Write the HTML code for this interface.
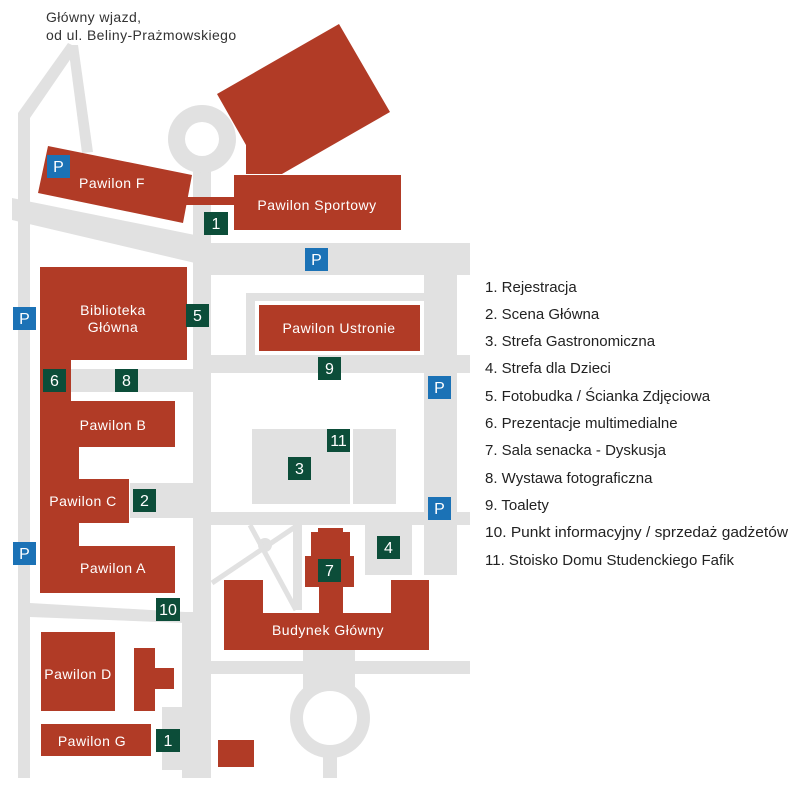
<!DOCTYPE html>
<html><head><meta charset="utf-8"><style>
html,body{margin:0;padding:0;background:#fff;width:800px;height:795px;overflow:hidden}
svg{display:block}
text{font-family:"Liberation Sans",sans-serif}
</style></head><body>
<svg width="800" height="795" viewBox="0 0 800 795" xmlns="http://www.w3.org/2000/svg">
<g fill="#e1e1e1">
<!-- left road with top diagonal -->
<polygon points="18,113 68,43 78,48 30,118 30,778 18,778"/>
<polygon points="68,45 78,45 93,152 82,153"/>
<!-- diagonal road -->
<polygon points="12,198 195,235 195,263 12,220"/>
<rect x="195" y="243" width="275" height="32"/>
<!-- main vertical road -->
<rect x="193" y="170" width="18" height="608"/>
<circle cx="202" cy="139" r="34"/>
<!-- Ustronie frame -->
<rect x="246" y="293" width="179" height="8"/>
<rect x="246" y="293" width="9" height="64"/>
<rect x="424" y="275" width="33" height="300"/>
<rect x="210" y="355" width="260" height="18"/>
<rect x="70" y="369" width="125" height="23"/>
<rect x="130" y="483" width="65" height="35"/>
<rect x="210" y="512" width="260" height="13"/>
<rect x="252" y="429" width="98" height="75"/>
<rect x="353" y="429" width="43" height="75"/>
<rect x="365" y="525" width="47" height="50"/>
<rect x="293" y="525" width="9" height="85"/>
<circle cx="265" cy="545" r="7"/>
<polygon points="30,603 185,612 185,623 30,617"/>
<rect x="182" y="612" width="28" height="166"/>
<rect x="162" y="707" width="22" height="63"/>
<rect x="210" y="661" width="260" height="13"/>
<rect x="303" y="650" width="52" height="50"/>
<circle cx="330" cy="718" r="40"/>
<rect x="323" y="740" width="14" height="38"/>
</g>
<g stroke="#e1e1e1" stroke-width="5">
<line x1="250" y1="525" x2="296" y2="610"/>
<line x1="212" y1="583" x2="295" y2="527"/>
</g>
<circle cx="202" cy="139" r="17" fill="#fff"/>
<circle cx="330" cy="718" r="27" fill="#fff"/>
<g fill="#b13b26">
<polygon points="217,94 339,24 390,112 282,174 246,174 246,145"/>
<rect x="234" y="175" width="167" height="55"/>
<rect x="185" y="197" width="50" height="8"/>
<polygon points="48,146 192,175 183,223 38,193"/>
<rect x="40" y="267" width="147" height="93"/>
<rect x="40" y="355" width="31" height="50"/>
<rect x="40" y="401" width="135" height="46"/>
<rect x="40" y="440" width="39" height="153"/>
<rect x="40" y="479" width="89" height="44"/>
<rect x="40" y="546" width="135" height="47"/>
<rect x="41" y="632" width="74" height="79"/>
<rect x="134" y="648" width="21" height="63"/>
<rect x="154" y="668" width="20" height="21"/>
<rect x="41" y="724" width="110" height="32"/>
<rect x="218" y="740" width="36" height="27"/>
<rect x="224" y="613" width="205" height="37"/>
<rect x="224" y="580" width="39" height="40"/>
<rect x="391" y="580" width="38" height="40"/>
<rect x="319" y="580" width="24" height="40"/>
<rect x="305" y="556" width="49" height="31"/>
<rect x="311" y="532" width="39" height="28"/>
<rect x="318" y="528" width="25" height="8"/>
<rect x="259" y="305" width="161" height="46"/>
</g>
<g fill="#fff" font-size="14" text-anchor="middle" letter-spacing="0.5">
<text x="112" y="188">Pawilon F</text>
<text x="317" y="210">Pawilon Sportowy</text>
<text x="113" y="315">Biblioteka</text>
<text x="113" y="332">Główna</text>
<text x="339" y="333">Pawilon Ustronie</text>
<text x="113" y="430">Pawilon B</text>
<text x="83" y="506">Pawilon C</text>
<text x="113" y="573">Pawilon A</text>
<text x="78" y="679">Pawilon D</text>
<text x="92" y="746">Pawilon G</text>
<text x="328" y="635">Budynek Główny</text>
</g>
<g fill="#1b72b6">
<rect x="47" y="155" width="23" height="23"/>
<rect x="305" y="248" width="23" height="23"/>
<rect x="13" y="307" width="23" height="23"/>
<rect x="428" y="376" width="23" height="23"/>
<rect x="428" y="497" width="23" height="23"/>
<rect x="13" y="542" width="23" height="23"/>
</g>
<g fill="#0c4d39">
<rect x="204" y="212" width="24" height="23"/>
<rect x="186" y="304" width="23" height="23"/>
<rect x="43" y="369" width="23" height="23"/>
<rect x="115" y="369" width="23" height="23"/>
<rect x="318" y="357" width="23" height="23"/>
<rect x="327" y="429" width="23" height="23"/>
<rect x="288" y="457" width="23" height="23"/>
<rect x="133" y="489" width="23" height="23"/>
<rect x="377" y="536" width="23" height="23"/>
<rect x="318" y="559" width="23" height="23"/>
<rect x="156" y="598" width="24" height="23"/>
<rect x="156" y="729" width="24" height="23"/>
</g>
<g fill="#fff" font-size="16" text-anchor="middle">
<text x="58.5" y="172">P</text><text x="316.5" y="265">P</text><text x="24.5" y="324">P</text>
<text x="439.5" y="393">P</text><text x="439.5" y="514">P</text><text x="24.5" y="559">P</text>
<text x="216" y="229">1</text><text x="197.5" y="321">5</text><text x="54.5" y="386">6</text>
<text x="126.5" y="386">8</text><text x="329.5" y="374">9</text><text x="338.5" y="446">11</text>
<text x="299.5" y="474">3</text><text x="144.5" y="506">2</text><text x="388.5" y="553">4</text>
<text x="329.5" y="576">7</text><text x="168" y="615">10</text><text x="168" y="746">1</text>
</g>
<g fill="#333" font-size="14" letter-spacing="0.4">
<text x="46" y="22">Główny wjazd,</text>
<text x="46" y="40">od ul. Beliny-Prażmowskiego</text>
</g>
<g fill="#222" font-size="15">
<text x="485" y="292">1. Rejestracja</text>
<text x="485" y="319">2. Scena Główna</text>
<text x="485" y="346">3. Strefa Gastronomiczna</text>
<text x="485" y="373">4. Strefa dla Dzieci</text>
<text x="485" y="401">5. Fotobudka / Ścianka Zdjęciowa</text>
<text x="485" y="428">6. Prezentacje multimedialne</text>
<text x="485" y="455">7. Sala senacka - Dyskusja</text>
<text x="485" y="483">8. Wystawa fotograficzna</text>
<text x="485" y="510">9. Toalety</text>
<text x="485" y="537" textLength="303" lengthAdjust="spacingAndGlyphs">10. Punkt informacyjny / sprzedaż gadżetów</text>
<text x="485" y="565">11. Stoisko Domu Studenckiego Fafik</text>
</g>
</svg>
</body></html>
